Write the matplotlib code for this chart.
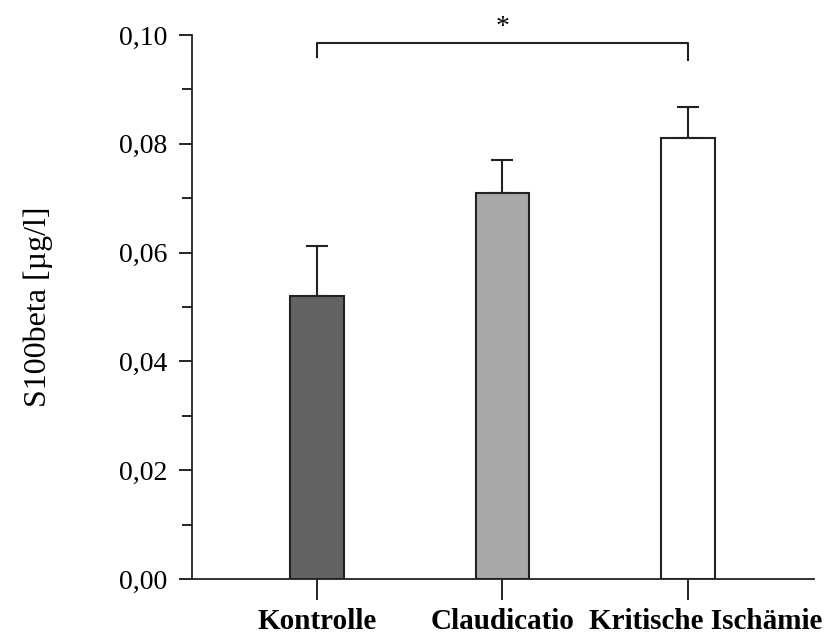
import numpy as np
import matplotlib
matplotlib.use("Agg")
import matplotlib.pyplot as plt
import matplotlib.transforms as mtransforms

# Daten
gruppen = ["Kontrolle", "Claudicatio", "Kritische Ischämie"]
mittelwerte = [0.0520, 0.0710, 0.0810]
fehler = [0.0092, 0.0060, 0.0058]
farben = ["#636363", "#a8a8a8", "#ffffff"]
y_ticks = [0.00, 0.02, 0.04, 0.06, 0.08, 0.10]
y_ticklabels = ["0,00", "0,02", "0,04", "0,06", "0,08", "0,10"]

plt.rcParams['font.family'] = ['Liberation Serif', 'DejaVu Serif']

fig = plt.figure(figsize=(8.3, 6.42), dpi=100)
ax = fig.add_axes([0.2313, 0.0981, 0.7494, 0.8474])

x = np.arange(len(gruppen))
ax.bar(x, mittelwerte, width=0.29, color=farben, edgecolor='#222222', linewidth=1.5, zorder=2)
ax.errorbar(x, mittelwerte, yerr=[np.zeros(len(fehler)), fehler], fmt='none',
            ecolor='#222222', elinewidth=1.5, capsize=8, capthick=1.5, zorder=1)

ax.set_xlim(-0.674, 2.68)
ax.set_ylim(0, 0.10)
ax.set_yticks(y_ticks)
ax.set_yticklabels(y_ticklabels, fontsize=20)
ax.set_yticks(np.arange(0.01, 0.10, 0.02), minor=True)
ax.set_xticks(x)
ax.set_xticklabels(gruppen, fontsize=21, fontweight='bold')
ax.tick_params(axis='y', which='major', length=9.5, width=1.2, direction='out', pad=8)
ax.tick_params(axis='y', which='minor', length=7, width=1.2, direction='out')
ax.tick_params(axis='x', which='major', length=15, width=1.2, direction='out', pad=6)

# letzte Beschriftung etwas nach rechts
versatz = mtransforms.ScaledTranslation(0.18, 0, fig.dpi_scale_trans)
lbl = ax.get_xticklabels()[2]
lbl.set_transform(lbl.get_transform() + versatz)

ax.spines['top'].set_visible(False)
ax.spines['right'].set_visible(False)
for s in ['left', 'bottom']:
    ax.spines[s].set_linewidth(1.3)
    ax.spines[s].set_color('#222222')

ax.set_ylabel("S100beta [µg/l]", fontsize=23, labelpad=48)

# Signifikanzklammer
y_kl = 0.0985
ax.plot([0, 0, 2, 2], [0.0960, y_kl, y_kl, 0.0954], color='#222222', lw=1.5, clip_on=False)
ax.text(1, 0.1002, "*", ha='center', va='baseline', fontsize=20)

fig.savefig("out.png", dpi=100)
